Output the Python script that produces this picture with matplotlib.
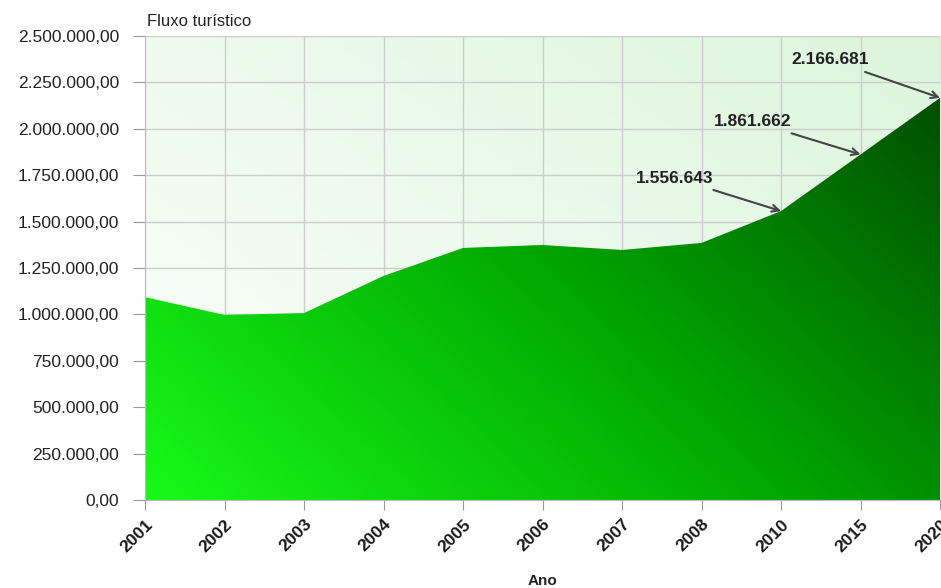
import matplotlib.pyplot as plt
import numpy as np
from matplotlib.colors import LinearSegmentedColormap
from matplotlib.patches import Polygon

plt.rcParams['font.family'] = ['Liberation Sans', 'DejaVu Sans']

anos = ['2001', '2002', '2003', '2004', '2005', '2006', '2007', '2008', '2010', '2015', '2020']
fluxo = [1093000, 997000, 1007000, 1207000, 1358000, 1374000, 1347000, 1385000,
         1556643, 1861662, 2166681]
destaques = ['2010', '2015', '2020']
rotulos = ['1.556.643', '1.861.662', '2.166.681']
offsets = [(-106, 33), (-108, 33), (-110, 38)]


def fmt_br(v, pos=None):
    s = f'{v:,.2f}'
    return s.replace(',', 'X').replace('.', ',').replace('X', '.')


fig = plt.figure(figsize=(9.41, 5.88), dpi=100)
ax = fig.add_axes([0.1541, 0.1497, 0.8449, 0.7891])

x = np.arange(len(anos))
y = np.array(fluxo, dtype=float)
ymax = 2500000

ax.set_xlim(0, len(anos) - 1)
ax.set_ylim(0, ymax)

# fundo em degradê
gx, gy = np.meshgrid(np.linspace(0, 1, 300), np.linspace(0, 1, 200))
bg_cmap = LinearSegmentedColormap.from_list('bg', ['#fdfffd', '#dcf5dc'])
ax.imshow(0.55 * gx + 0.45 * gy, cmap=bg_cmap, origin='lower', aspect='auto',
          extent=[0, len(anos) - 1, 0, ymax], zorder=0, vmin=0, vmax=1)

# área com degradê
fill_cmap = LinearSegmentedColormap.from_list('area', ['#18fa18', '#00a800', '#004600'])
verts = np.column_stack([np.r_[x, x[-1], x[0]], np.r_[y, 0, 0]])
poly = Polygon(verts, closed=True, facecolor='none', edgecolor='none')
ax.add_patch(poly)
im = ax.imshow(0.62 * gx + 0.38 * gy, cmap=fill_cmap, origin='lower', aspect='auto',
               extent=[0, len(anos) - 1, 0, ymax], zorder=1, vmin=0, vmax=1)
im.set_clip_path(poly)

ax.set_xticks(x)
ax.set_xticklabels(anos, rotation=45, ha='right', rotation_mode='anchor',
                   fontsize=12.5, fontweight='bold', color='#1a1a1a')
ax.set_yticks(np.arange(0, ymax + 1, 250000))
ax.yaxis.set_major_formatter(plt.FuncFormatter(fmt_br))
ax.tick_params(axis='y', labelsize=12.5, colors='#999999', labelcolor='#222222',
               length=8.6, pad=10)
ax.tick_params(axis='x', colors='#999999', labelcolor='#1a1a1a', length=7, pad=5)

ax.grid(True, color='#cdcdcd', linewidth=1)
ax.set_axisbelow(True)
for s in ax.spines.values():
    s.set_color('#bbbbbb')
ax.spines['top'].set_visible(False)
ax.spines['right'].set_visible(False)

ax.text(0.002, 1.022, 'Fluxo turístico', transform=ax.transAxes, fontsize=12,
        color='#222222', ha='left', va='baseline')
ax.set_xlabel('Ano', fontsize=11, fontweight='bold', color='#222222', labelpad=14)

for ano, rot, off in zip(destaques, rotulos, offsets):
    i = anos.index(ano)
    ax.annotate(rot, xy=(x[i], y[i]), xytext=off, textcoords='offset pixels',
                ha='center', va='center', fontsize=12.5, fontweight='bold',
                color='#222222', zorder=5, annotation_clip=False,
                arrowprops=dict(arrowstyle='->', color='#444444', lw=1.5,
                                shrinkA=4, shrinkB=0))

plt.savefig('out.png', dpi=100, facecolor='white')
plt.close()
